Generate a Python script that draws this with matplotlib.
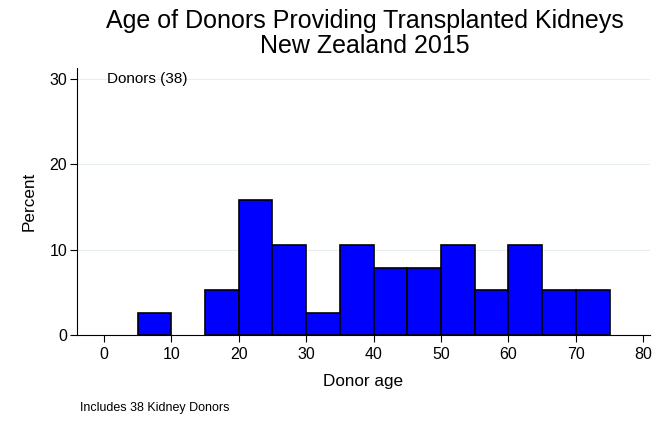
import numpy as np
from matplotlib import pyplot as plt

plt.rcParams['font.family'] = ['Liberation Sans', 'DejaVu Sans']

# histogram of donor ages, bins of width 5 (percent of 38 donors)
bin_edges = [5, 10, 15, 20, 25, 30, 35, 40, 45, 50, 55, 60, 65, 70, 75]
percents = [2.63, 0.0, 5.26, 15.79, 10.53, 2.63, 10.53, 7.89, 7.89, 10.53, 5.26, 10.53, 5.26, 5.26]
x_ticks = [0, 10, 20, 30, 40, 50, 60, 70, 80]
y_ticks = [0, 10, 20, 30]
title_lines = ['Age of Donors Providing Transplanted Kidneys', 'New Zealand 2015']

fig = plt.figure(figsize=(6.67, 4.21), dpi=100)
ax = fig.add_axes([0.1154, 0.2043, 0.8591, 0.6342])

lefts = np.array(bin_edges[:-1])
widths = np.diff(bin_edges)
heights = np.array(percents)
keep = heights > 0  # empty bins draw nothing
ax.bar(lefts[keep], heights[keep], width=widths[keep], align='edge', color='#0000FF',
       edgecolor='black', linewidth=1.2, zorder=3)

ax.set_xlim(-4, 81)
ax.set_ylim(0, 31.3)
ax.set_xticks(x_ticks)
ax.set_yticks(y_ticks)
ax.yaxis.grid(True, color='#e6efef', linewidth=0.8, zorder=0)
for s in ['top', 'right']:
    ax.spines[s].set_visible(False)
ax.tick_params(direction='out', length=5, labelsize=11.5, width=0.8, pad=4)
ax.tick_params(axis='y', pad=2)
ax.set_xlabel('Donor age', fontsize=12.3, labelpad=8)
ax.set_ylabel('Percent', fontsize=12.3, labelpad=9)

ax.text(0.45, 30, 'Donors (38)', fontsize=11, va='center', ha='left')

# two title lines placed by baseline
fig.text(0.547, 1 - 28 / 421, title_lines[0], ha='center', va='baseline', fontsize=18)
fig.text(0.547, 1 - 53 / 421, title_lines[1], ha='center', va='baseline', fontsize=18)
fig.text(0.12, 0.031, 'Includes 38 Kidney Donors', fontsize=9, ha='left', va='center')

fig.savefig('out.png', dpi=100)
